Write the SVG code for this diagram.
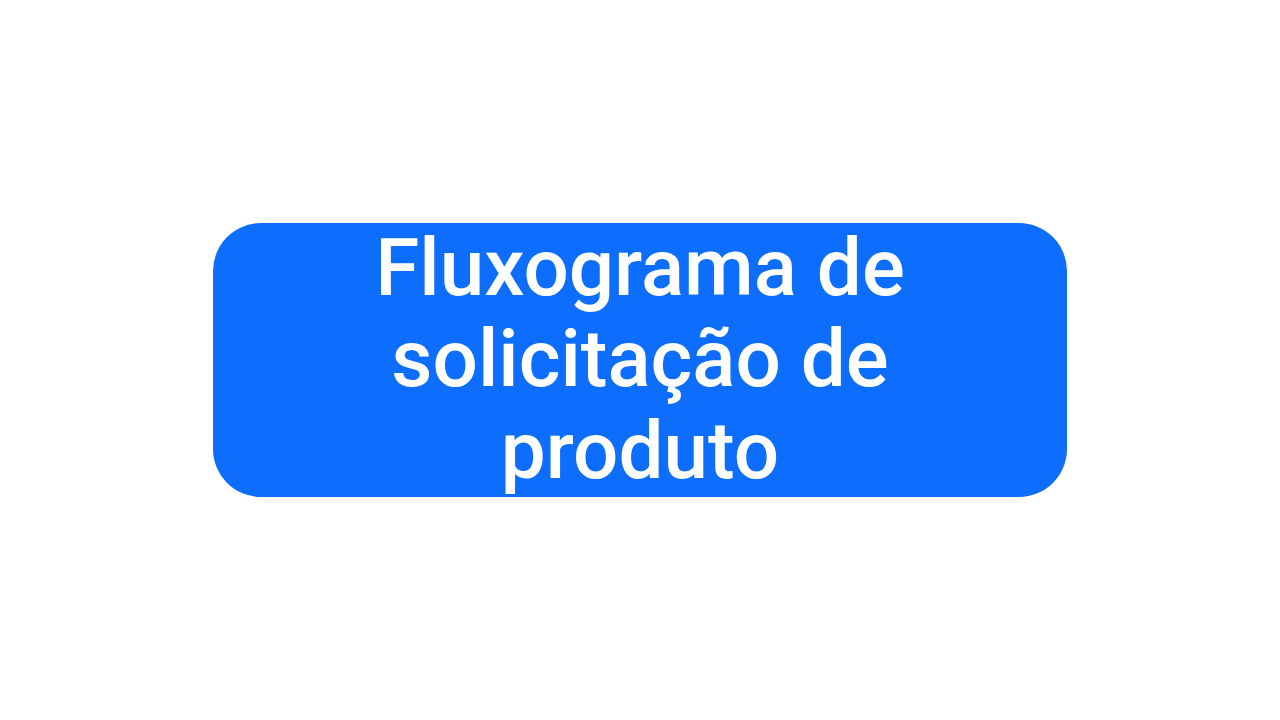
<svg xmlns="http://www.w3.org/2000/svg" width="1280" height="720" viewBox="0 0 1280 720">
<style>
.t{font-family:Roboto,"DejaVu Sans",sans-serif;font-size:80px;font-weight:500;fill:#ffffff;text-anchor:middle}
</style>
<defs><clipPath id="c"><rect x="213" y="223" width="854" height="274" rx="48"/></clipPath></defs>
<rect width="1280" height="720" fill="#ffffff"/>
<g id="node-title">
<rect x="213" y="223" width="854" height="274" rx="48" fill="#0d6efd"/>
<g clip-path="url(#c)">
<text class="t" x="640" y="295">Fluxograma de</text>
<text class="t" x="640" y="386">solicitação de</text>
<text class="t" x="640" y="478">produto</text>
</g>
</g>
<g id="connectors"/>
</svg>
